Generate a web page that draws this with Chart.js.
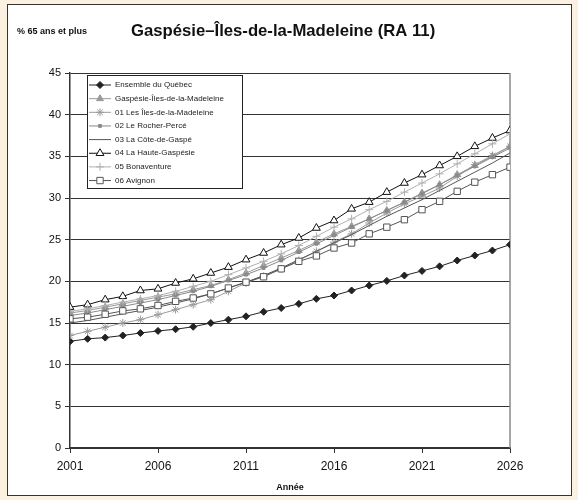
<!DOCTYPE html>
<html>
<head>
<meta charset="utf-8">
<script src="https://cdn.jsdelivr.net/npm/chart.js@4/dist/chart.umd.min.js"></script>
<style>
  html, body { margin: 0; padding: 0; background: #fcf0e0; }
  #frame { position: absolute; left: 7px; top: 4px; width: 563px; height: 490px; border: 1.5px solid #333; background: #ffffff; }
  #wrap { position: absolute; left: 0; top: 0; width: 578px; height: 500px; }
</style>
</head>
<body>
<div id="frame"></div>
<div id="wrap"><canvas id="c" width="578" height="500"></canvas></div>
<script>
const years = [2001,2002,2003,2004,2005,2006,2007,2008,2009,2010,2011,2012,2013,2014,2015,2016,2017,2018,2019,2020,2021,2022,2023,2024,2025,2026];
const xTickLabels = [2001, 2006, 2011, 2016, 2021, 2026];
const yTickLabels = [0, 5, 10, 15, 20, 25, 30, 35, 40, 45];

const seriesNames = [
  "Ensemble du Québec",
  "Gaspésie-Îles-de-la-Madeleine",
  "01 Les Îles-de-la-Madeleine",
  "02 Le Rocher-Percé",
  "03 La Côte-de-Gaspé",
  "04 La Haute-Gaspésie",
  "05 Bonaventure",
  "06 Avignon"
];

const quebec      = [12.8,13.1,13.25,13.5,13.8,14.05,14.25,14.55,15.0,15.4,15.8,16.35,16.8,17.3,17.9,18.3,18.9,19.5,20.05,20.7,21.25,21.8,22.5,23.1,23.7,24.4];
const gaspesieRA  = [16.2,16.5,16.9,17.3,17.7,18.1,18.5,19.0,19.5,20.2,21.0,21.9,22.8,23.7,24.7,25.7,26.6,27.5,28.5,29.5,30.6,31.6,32.8,33.9,35.0,36.2];
const iles        = [13.5,14.0,14.5,15.0,15.4,16.0,16.6,17.2,17.8,18.8,19.8,20.6,21.5,22.5,23.6,24.7,25.7,27.0,28.2,29.3,30.2,31.2,32.6,34.0,35.1,36.2];
const rocherPerce = [15.9,16.2,16.6,17.0,17.4,17.8,18.3,18.8,19.4,20.1,20.8,21.6,22.5,23.5,24.5,25.5,26.5,27.5,28.5,29.5,30.5,31.6,32.7,33.8,34.9,36.0];
const coteGaspe   = [15.0,15.3,15.7,16.1,16.5,16.9,17.4,17.9,18.5,19.2,19.9,20.7,21.6,22.6,23.6,24.6,25.6,26.7,27.8,28.8,29.8,30.9,32.0,33.1,34.2,35.4];
const hauteGasp   = [16.9,17.2,17.8,18.2,18.9,19.1,19.8,20.3,21.0,21.7,22.6,23.4,24.4,25.2,26.4,27.3,28.7,29.5,30.7,31.8,32.8,33.9,35.0,36.2,37.2,38.1];
const bonaventure = [16.4,16.7,17.1,17.5,17.9,18.3,18.8,19.4,20.0,20.8,21.6,22.4,23.3,24.3,25.4,26.5,27.5,28.6,29.6,30.7,31.8,32.9,34.1,35.3,36.5,37.7];
const avignon     = [15.5,15.7,16.05,16.45,16.7,17.1,17.6,18.0,18.5,19.2,19.9,20.55,21.5,22.4,23.05,24.0,24.6,25.7,26.5,27.4,28.6,29.6,30.8,31.9,32.8,33.7];

const seriesValues = [quebec, gaspesieRA, iles, rocherPerce, coteGaspe, hauteGasp, bonaventure, avignon];

const styles = [
  { color: "#222222", pointStyle: "rectRot",  radius: 3.5, bg: "#222222", width: 1 },
  { color: "#9a9a9a", pointStyle: "triangle", radius: 4,   bg: "#9a9a9a", width: 1 },
  { color: "#9a9a9a", pointStyle: "star",     radius: 4,   bg: "#9a9a9a", width: 1 },
  { color: "#8a8a8a", pointStyle: "rect",     radius: 2,   bg: "#8a8a8a", width: 1 },
  { color: "#555555", pointStyle: false,      radius: 0,   bg: "#555555", width: 1 },
  { color: "#111111", pointStyle: "triangle", radius: 4.5, bg: "#ffffff", width: 1 },
  { color: "#b0b0b0", pointStyle: "cross",    radius: 4,   bg: "#b0b0b0", width: 1 },
  { color: "#555555", pointStyle: "rect",     radius: 4.5, bg: "#ffffff", width: 1 }
];

const FONT = "'Liberation Sans', Arial, Helvetica, sans-serif";

const datasets = seriesNames.map((name, i) => ({
  label: name,
  data: years.map((yr, k) => ({ x: yr, y: seriesValues[i][k] })),
  borderColor: styles[i].color,
  backgroundColor: styles[i].bg,
  borderWidth: styles[i].width,
  pointStyle: styles[i].pointStyle,
  pointRadius: styles[i].radius,
  pointBorderColor: styles[i].color,
  pointBackgroundColor: styles[i].bg,
  pointBorderWidth: 1,
  tension: 0,
  order: 8 - i
}));

const decorPlugin = {
  id: "decor",
  beforeDatasetsDraw(chart) {
    const ctx = chart.ctx, a = chart.chartArea;
    ctx.save();
    ctx.strokeStyle = "#8a8a8a";
    ctx.lineWidth = 1.5;
    ctx.beginPath();
    ctx.moveTo(a.right, a.top);
    ctx.lineTo(a.right, a.bottom);
    ctx.stroke();
    ctx.restore();
  },
  afterDraw(chart) {
    const ctx = chart.ctx;
    ctx.save();
    ctx.fillStyle = "#111";
    ctx.textBaseline = "middle";
    ctx.textAlign = "left";
    ctx.font = "bold 9px " + FONT;
    ctx.fillText("% 65 ans et plus", 17, 32);
    ctx.font = "bold 16.7px " + FONT;
    ctx.fillText("Gaspésie–Îles-de-la-Madeleine (RA 11)", 131, 31);

    const lx = 87, ly = 75, lw = 155, lh = 113;
    ctx.fillStyle = "#ffffff";
    ctx.fillRect(lx, ly, lw, lh);
    ctx.strokeStyle = "#222";
    ctx.lineWidth = 1;
    ctx.strokeRect(lx + 0.5, ly + 0.5, lw, lh);
    chart.data.datasets.forEach((ds, i) => {
      const y = 85 + i * 13.65;
      ctx.strokeStyle = ds.borderColor;
      ctx.lineWidth = ds.borderWidth;
      ctx.beginPath();
      ctx.moveTo(89, y);
      ctx.lineTo(111, y);
      ctx.stroke();
      if (ds.pointStyle) {
        ctx.fillStyle = ds.pointBackgroundColor;
        ctx.strokeStyle = ds.pointBorderColor;
        ctx.lineWidth = 1;
        if (Chart.helpers && Chart.helpers.drawPoint) {
          Chart.helpers.drawPoint(ctx, { pointStyle: ds.pointStyle, radius: ds.pointRadius, borderWidth: 1, rotation: 0 }, 100, y);
        }
      }
      ctx.fillStyle = "#222";
      ctx.font = "8px " + FONT;
      ctx.textAlign = "left";
      ctx.textBaseline = "middle";
      ctx.fillText(ds.label, 115, y);
    });
    ctx.restore();
  }
};

new Chart(document.getElementById("c"), {
  type: "line",
  data: { datasets },
  plugins: [decorPlugin],
  options: {
    responsive: false,
    animation: false,
    devicePixelRatio: 1,
    layout: { padding: { left: 0, right: 68, top: 73, bottom: 7 } },
    plugins: { legend: { display: false }, title: { display: false }, tooltip: { enabled: false } },
    scales: {
      x: {
        type: "linear",
        min: 2001,
        max: 2026,
        afterBuildTicks(scale) { scale.ticks = xTickLabels.map(v => ({ value: v })); },
        afterFit(scale) { scale.height = 45; },
        ticks: { color: "#111", font: { family: FONT, size: 12 }, padding: 6, maxRotation: 0, callback: v => String(v) },
        grid: { display: true, drawOnChartArea: false, color: "#333", tickLength: 5, tickWidth: 1 },
        border: { display: true, color: "#333", width: 1.5 },
        title: { display: true, text: "Année", color: "#111", font: { family: FONT, size: 9, weight: "bold" }, padding: { top: 6, bottom: 0 } }
      },
      y: {
        min: 0,
        max: 45,
        afterBuildTicks(scale) { scale.ticks = yTickLabels.map(v => ({ value: v })); },
        afterFit(scale) { scale.width = 70; },
        ticks: { color: "#111", font: { family: FONT, size: 11 }, padding: 4 },
        grid: { color: "#333", lineWidth: 1, tickLength: 5 },
        border: { display: true, color: "#333", width: 1.5 }
      }
    }
  }
});
</script>
</body>
</html>
